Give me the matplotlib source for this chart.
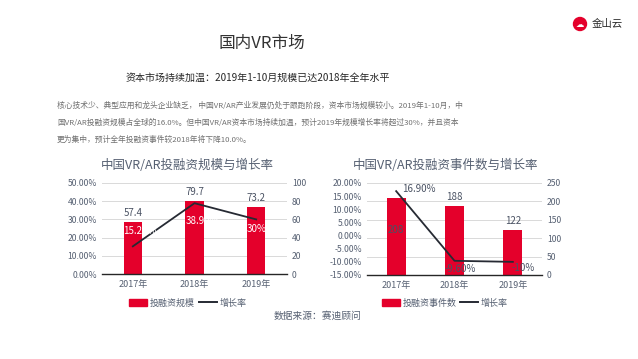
import matplotlib
matplotlib.use("Agg")
import matplotlib.pyplot as plt
from matplotlib.patches import Ellipse, Patch
from matplotlib.lines import Line2D
from matplotlib.ticker import FuncFormatter

plt.rcParams['font.family'] = ['Noto Sans CJK SC', 'DejaVu Sans']

# data
years = ['2017年', '2018年', '2019年']
invest_scale = [57.4, 79.7, 73.2]          # 投融资规模
invest_rate = [15.2, 38.9, 30.0]           # 增长率 (%)
invest_rate_labels = ['15.20%', '38.90%', '30%']
event_count = [208, 188, 122]              # 投融资事件数
event_rate = [16.9, -9.6, -10.0]           # 增长率 (%)
event_rate_labels = ['16.90%', '-9.60%', '-10%']

paragraph = [
    '核心技术少、典型应用和龙头企业缺乏， 中国VR/AR产业发展仍处于跟跑阶段，资本市场规模较小。2019年1-10月，中',
    '国VR/AR投融资规模占全球的16.0%。但中国VR/AR资本市场持续加温，预计2019年规模增长率将超过30%，并且资本',
    '更为集中，预计全年投融资事件较2018年将下降10.0%。',
]

RED = '#e4002b'
LINE = '#262a33'
GRID = '#d9d9d9'
TICK = '#566072'
LABEL = '#4a5263'

W, H = 638, 359
fig = plt.figure(figsize=(W / 100, H / 100), dpi=100)
fig.patch.set_facecolor('white')


def fx(px):
    return px / W


def fy(py):
    return 1 - py / H


def px2pt(p):
    return p * 0.72


# header
fig.text(fx(262), fy(43), '国内VR市场', ha='center', va='center', fontsize=12, color='#333333')
fig.text(fx(258), fy(78), '资本市场持续加温：2019年1-10月规模已达2018年全年水平',
         ha='center', va='center', fontsize=7.2, color='#262626')
for i, line in enumerate(paragraph):
    fig.text(fx(57), fy(106 + i * 17), line, ha='left', va='center', fontsize=5.6, color='#707070')

# logo
fig.patches.append(Ellipse((fx(580), fy(24)), 13 / W, 13 / H, transform=fig.transFigure,
                           color=RED, zorder=5))
fig.text(fx(580), fy(24.5), '☁', ha='center', va='center', fontsize=6, color='white',
         family=['DejaVu Sans'], zorder=6)
fig.text(fx(607), fy(24), '金山云', ha='center', va='center', fontsize=7.5, color='#262626')


def style_axes(ax_bar, ax_line):
    for a in (ax_bar, ax_line):
        for s in a.spines.values():
            s.set_visible(False)
        a.tick_params(length=0, labelsize=6.2, labelcolor=TICK)
    ax_bar.spines['bottom'].set_visible(True)
    ax_bar.spines['bottom'].set_color('#262626')
    ax_bar.spines['bottom'].set_linewidth(1.0)
    ax_bar.yaxis.grid(True, color=GRID, linewidth=0.7)
    ax_bar.set_axisbelow(True)
    ax_bar.yaxis.tick_right()
    ax_line.yaxis.tick_left()
    ax_bar.tick_params(axis='x', labelsize=6.5, pad=4)
    ax_line.yaxis.set_major_formatter(FuncFormatter(lambda v, p: f'{v:.2f}%'))


# left chart
axL = fig.add_axes([fx(102), fy(274), fx(185), (274 - 183) / H])
axL.bar(years, invest_scale, width=0.3, color=RED, zorder=2)
axL.set_ylim(0, 100)
axL.set_yticks(range(0, 101, 20))
axL.set_xlim(-0.5, 2.5)
axL2 = axL.twinx()
axL2.plot(years, invest_rate, color=LINE, linewidth=1.3)
axL2.set_ylim(0, 50)
axL2.set_yticks(range(0, 51, 10))
style_axes(axL, axL2)
for i, v in enumerate(invest_scale):
    axL.annotate(f'{v}', (i, v), xytext=(0, px2pt(9)), textcoords='offset points',
                 ha='center', va='center', fontsize=7, color=LABEL)
offsL = [(-10, 15, 'left'), (-9, -18, 'left'), (0, -10, 'center')]
for i, (v, t) in enumerate(zip(invest_rate, invest_rate_labels)):
    dx, dy, ha = offsL[i]
    axL2.annotate(t, (i, v), xytext=(px2pt(dx), px2pt(dy)), textcoords='offset points',
                  ha=ha, va='center', fontsize=7, color='white')
fig.text(fx(187), fy(165), '中国VR/AR投融资规模与增长率', ha='center', va='center',
         fontsize=9, color=TICK)

# right chart
axR = fig.add_axes([fx(367), fy(275), fx(175), (275 - 183) / H])
axR.bar(years, event_count, width=0.33, color=RED, zorder=2)
axR.set_ylim(0, 250)
axR.set_yticks(range(0, 251, 50))
axR.set_xlim(-0.5, 2.5)
axR2 = axR.twinx()
axR2.plot(years, event_rate, color=LINE, linewidth=1.3)
axR2.set_ylim(-15, 20)
axR2.set_yticks(range(-15, 21, 5))
style_axes(axR, axR2)
axR.annotate(f'{event_count[0]}', (0, event_count[0] / 2), xytext=(0, px2pt(7)),
             textcoords='offset points', ha='center', va='center', fontsize=7, color=LABEL)
for i in (1, 2):
    v = event_count[i]
    axR.annotate(f'{v}', (i, v), xytext=(0, px2pt(9)), textcoords='offset points',
                 ha='center', va='center', fontsize=7, color=LABEL)
offsR = [(6, 2, 'left'), (6, -8, 'center'), (10, -6, 'center')]
for i, (v, t) in enumerate(zip(event_rate, event_rate_labels)):
    dx, dy, ha = offsR[i]
    axR2.annotate(t, (i, v), xytext=(px2pt(dx), px2pt(dy)), textcoords='offset points',
                  ha=ha, va='center', fontsize=7, color=LABEL)
fig.text(fx(446), fy(165), '中国VR/AR投融资事件数与增长率', ha='center', va='center',
         fontsize=9, color=TICK)

# legends
for cx, name in ((188, '投融资规模'), (445, '投融资事件数')):
    handles = [Patch(color=RED, label=name), Line2D([], [], color=LINE, lw=1.4, label='增长率')]
    fig.legend(handles=handles, loc='center', bbox_to_anchor=(fx(cx), fy(303)), ncol=2,
               frameon=False, fontsize=6.5, handlelength=2.0, handleheight=0.7,
               handletextpad=0.3, columnspacing=0.4, labelcolor=TICK)

fig.text(fx(317), fy(316), '数据来源：赛迪顾问', ha='center', va='center', fontsize=7, color=TICK)

fig.savefig('out.png', dpi=100, facecolor='white')
